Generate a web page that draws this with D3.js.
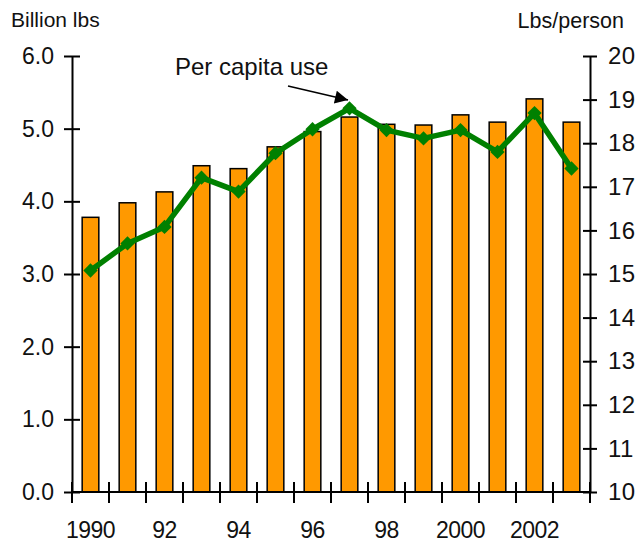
<!DOCTYPE html>
<html>
<head>
<meta charset="utf-8">
<script src="https://cdn.jsdelivr.net/npm/d3@7"></script>
<style>
  body { margin: 0; background: #fff; }
  text { font-family: "Liberation Sans", Arial, sans-serif; fill: #111; }
</style>
</head>
<body>
<script>
const years = [1990, 1991, 1992, 1993, 1994, 1995, 1996, 1997, 1998, 1999, 2000, 2001, 2002, 2003];
const totalUse = [3.78, 3.98, 4.13, 4.49, 4.45, 4.75, 4.96, 5.16, 5.06, 5.05, 5.19, 5.09, 5.41, 5.09];
const perCapita = [15.08, 15.70, 16.08, 17.21, 16.89, 17.77, 18.32, 18.80, 18.30, 18.11, 18.30, 17.80, 18.69, 17.42];
const xLabels = { 1990: '1990', 1992: '92', 1994: '94', 1996: '96', 1998: '98', 2000: '2000', 2002: '2002' };
const leftTicks = [0, 1, 2, 3, 4, 5, 6];
const rightTicks = [10, 11, 12, 13, 14, 15, 16, 17, 18, 19, 20];

const width = 642, height = 545;
const margin = { top: 56, right: 52, bottom: 53, left: 72 };

const svg = d3.select('body').append('svg')
    .attr('width', width)
    .attr('height', height);

const xScale = d3.scaleBand()
    .domain(years)
    .range([margin.left, width - margin.right])
    .paddingInner(0.55)
    .paddingOuter(0.275);
const yLeft = d3.scaleLinear().domain([0, 6]).range([height - margin.bottom, margin.top]);
const yRight = d3.scaleLinear().domain([10, 20]).range([height - margin.bottom, margin.top]);

// bars
svg.selectAll('rect.bar').data(years)
    .enter().append('rect')
    .attr('class', 'bar')
    .attr('x', d => xScale(d))
    .attr('y', (d, i) => yLeft(totalUse[i]))
    .attr('width', xScale.bandwidth())
    .attr('height', (d, i) => yLeft(0) - yLeft(totalUse[i]))
    .attr('fill', '#ff9900')
    .attr('stroke', '#000')
    .attr('stroke-width', 1.5);

// axes
const leftAxis = d3.axisLeft(yLeft).tickValues(leftTicks).tickFormat(d3.format('.1f'))
    .tickSizeInner(8).tickSizeOuter(0).tickPadding(10);
const gl = svg.append('g').attr('transform', `translate(${margin.left},0)`).call(leftAxis);

const rightAxis = d3.axisRight(yRight).tickValues(rightTicks).tickFormat(d3.format('d'))
    .tickSizeInner(7).tickSizeOuter(0).tickPadding(11);
const gr = svg.append('g').attr('transform', `translate(${width - margin.right},0)`).call(rightAxis);

[gl, gr].forEach(g => {
    g.select('.domain').attr('stroke', '#000').attr('stroke-width', 2);
    g.selectAll('.tick line').attr('stroke', '#000').attr('stroke-width', 2);
    g.selectAll('.tick text').attr('font-size', 23).attr('fill', '#111')
        .attr('font-family', '"Liberation Sans", Arial, sans-serif');
});
gr.selectAll('.tick text').attr('font-size', 24).attr('letter-spacing', 0.5);
gl.selectAll('.tick line').attr('x1', 8);
gr.selectAll('.tick line').attr('x1', -7);

// x axis: line with ticks at band boundaries, crossing the axis
const step = xScale.step();
const boundaries = years.map(y => xScale(y) - (step - xScale.bandwidth()) / 2)
    .concat([width - margin.right]);
const gx = svg.append('g').attr('transform', `translate(0,${yLeft(0)})`);
gx.append('line')
    .attr('x1', margin.left).attr('x2', width - margin.right)
    .attr('stroke', '#000').attr('stroke-width', 2);
gx.selectAll('line.xt').data(boundaries).enter().append('line')
    .attr('class', 'xt')
    .attr('x1', d => d).attr('x2', d => d)
    .attr('y1', -10).attr('y2', 11)
    .attr('stroke', '#000').attr('stroke-width', 2);
gx.selectAll('text').data(years.filter(y => xLabels[y])).enter().append('text')
    .attr('x', d => xScale(d) + xScale.bandwidth() / 2)
    .attr('y', 46)
    .attr('text-anchor', 'middle')
    .attr('font-size', 23)
    .attr('letter-spacing', -0.5)
    .text(d => xLabels[d]);

// per capita line
const line = d3.line()
    .x((d, i) => xScale(years[i]) + xScale.bandwidth() / 2)
    .y(d => yRight(d));
svg.append('path')
    .datum(perCapita)
    .attr('d', line)
    .attr('fill', 'none')
    .attr('stroke', '#008000')
    .attr('stroke-width', 5.5)
    .attr('stroke-linejoin', 'round');
svg.selectAll('path.mark').data(perCapita)
    .enter().append('path')
    .attr('class', 'mark')
    .attr('d', d3.symbol(d3.symbolDiamond2, 130))
    .attr('transform', (d, i) => `translate(${xScale(years[i]) + xScale.bandwidth() / 2},${yRight(d)})`)
    .attr('fill', '#008000');

// titles
svg.append('text').attr('x', 11).attr('y', 27).attr('font-size', 21).text('Billion lbs');
svg.append('text').attr('x', 624).attr('y', 28).attr('text-anchor', 'end').attr('font-size', 21.5).text('Lbs/person');

// annotation
svg.append('defs').append('marker')
    .attr('id', 'arrow').attr('viewBox', '0 0 10 10')
    .attr('refX', 10).attr('refY', 5)
    .attr('markerWidth', 16).attr('markerHeight', 13)
    .attr('markerUnits', 'userSpaceOnUse')
    .attr('orient', 'auto')
    .append('path').attr('d', 'M0,0L10,5L0,10Z').attr('fill', '#000');
svg.append('text').attr('x', 175).attr('y', 75).attr('font-size', 24).text('Per capita use');
svg.append('line')
    .attr('x1', 288).attr('y1', 86)
    .attr('x2', 348).attr('y2', 100)
    .attr('stroke', '#000').attr('stroke-width', 1.5)
    .attr('marker-end', 'url(#arrow)');
</script>
</body>
</html>
